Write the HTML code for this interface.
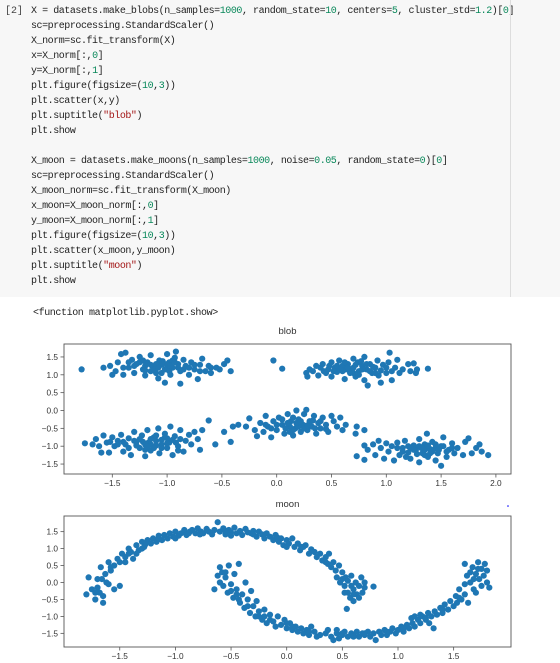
<!DOCTYPE html>
<html><head><meta charset="utf-8">
<style>
body{margin:0;width:560px;height:663px;background:#fff;overflow:hidden;position:relative;font-family:"Liberation Mono","Noto Sans CJK JP",monospace;}
#code{position:absolute;left:0;top:0;width:560px;height:297px;background:#f7f7f7;}
#vline{position:absolute;left:510px;top:0;width:1px;height:297px;background:#ddd;}
.ln{position:absolute;left:31px;font-size:10px;letter-spacing:-0.45px;color:#222;white-space:pre;line-height:12px;}
.n{color:#09885a}.s{color:#a31515}
#prompt{position:absolute;left:5px;top:6px;font-size:10px;color:#444;}
#out{position:absolute;left:33px;top:308px;font-size:10px;letter-spacing:-0.4px;color:#222;white-space:pre;}
svg{position:absolute;left:0;top:0;}
</style></head><body>
<div id="code">
<div id="prompt">[2]</div>
<div class="ln" style="top:6px">X = datasets.make_blobs(n_samples=<span class="n">1000</span>, random_state=<span class="n">10</span>, centers=<span class="n">5</span>, cluster_std=<span class="n">1.2</span>)[<span class="n">0</span>]</div>
<div class="ln" style="top:21px">sc=preprocessing.StandardScaler()</div>
<div class="ln" style="top:36px">X_norm=sc.fit_transform(X)</div>
<div class="ln" style="top:51px">x=X_norm[:,<span class="n">0</span>]</div>
<div class="ln" style="top:66px">y=X_norm[:,<span class="n">1</span>]</div>
<div class="ln" style="top:81px">plt.figure(figsize=(<span class="n">10</span>,<span class="n">3</span>))</div>
<div class="ln" style="top:96px">plt.scatter(x,y)</div>
<div class="ln" style="top:111px">plt.suptitle(<span class="s">"blob"</span>)</div>
<div class="ln" style="top:126px">plt.show</div>
<div class="ln" style="top:156px">X_moon = datasets.make_moons(n_samples=<span class="n">1000</span>, noise=<span class="n">0.05</span>, random_state=<span class="n">0</span>)[<span class="n">0</span>]</div>
<div class="ln" style="top:171px">sc=preprocessing.StandardScaler()</div>
<div class="ln" style="top:186px">X_moon_norm=sc.fit_transform(X_moon)</div>
<div class="ln" style="top:201px">x_moon=X_moon_norm[:,<span class="n">0</span>]</div>
<div class="ln" style="top:216px">y_moon=X_moon_norm[:,<span class="n">1</span>]</div>
<div class="ln" style="top:231px">plt.figure(figsize=(<span class="n">10</span>,<span class="n">3</span>))</div>
<div class="ln" style="top:246px">plt.scatter(x_moon,y_moon)</div>
<div class="ln" style="top:261px">plt.suptitle(<span class="s">"moon"</span>)</div>
<div class="ln" style="top:276px">plt.show</div>
</div>
<div id="vline"></div>
<div id="out">&lt;function matplotlib.pyplot.show&gt;</div>
<svg id="chart" width="560" height="663"></svg>
<script>
const blobXTicks=[-1.5,-1.0,-0.5,0.0,0.5,1.0,1.5,2.0];
const blobYTicks=[1.5,1.0,0.5,0.0,-0.5,-1.0,-1.5];
const moonXTicks=[-1.5,-1.0,-0.5,0.0,0.5,1.0,1.5];
const moonYTicks=[1.5,1.0,0.5,0.0,-0.5,-1.0,-1.5];
const blobPoints=[[-1.58,1.2],[-1.52,1.25],[-1.47,1.1],[-1.45,1.35],[-1.42,1.58],[-1.38,1.62],[-1.4,1.0],[-1.35,1.2],[-1.32,1.42],[-1.3,1.05],[-1.28,1.3],[-1.25,1.5],[-1.22,1.15],[-1.2,0.98],[-1.18,1.35],[-1.15,1.55],[-1.13,1.22],[-1.1,1.05],[-1.08,0.9],[-1.07,1.4],[-1.05,1.28],[-1.02,1.15],[-1.0,1.58],[-0.98,1.35],[-0.97,1.0],[-0.95,1.2],[-0.93,1.48],[-0.92,1.65],[-0.9,1.3],[-0.88,0.75],[-0.88,1.1],[-0.85,1.42],[-0.83,1.25],[-0.8,1.0],[-0.78,1.35],[-0.75,1.15],[-0.72,0.88],[-0.7,1.28],[-0.68,1.45],[-0.65,1.1],[-0.62,1.25],[-0.6,1.05],[-0.55,1.2],[-0.52,1.15],[-0.48,1.3],[-0.45,1.4],[-0.42,1.1],[-1.5,1.0],[-1.1,1.3],[-1.0,1.2],[-1.2,1.25],[-0.95,1.4],[-1.15,1.1],[-1.3,1.25],[-0.85,1.15],[-1.05,1.05],[-1.78,1.15],[-1.02,0.78],[-1.25,1.35],[-0.9,1.2],
[-1.12,1.15],[-1.08,1.2],[-1.0,1.3],[-0.97,1.25],[-0.93,1.35],[-1.04,1.38],[-1.15,1.28],[-1.2,1.12],[-0.8,1.2],[-0.75,1.28],[-1.35,1.35],[-1.4,1.2],[-0.7,1.1],[-0.98,1.1],[-1.22,1.4],[-0.6,1.2],
[0.27,1.05],[0.28,0.95],[0.3,1.15],[0.33,1.1],[0.36,1.25],[0.38,0.98],[0.4,1.2],[0.42,1.3],[0.45,1.05],[0.47,1.15],[0.5,1.35],[0.5,0.95],[0.53,1.2],[0.55,1.08],[0.57,1.4],[0.6,1.25],[0.62,0.88],[0.63,1.15],[0.65,1.3],[0.67,1.05],[0.7,1.45],[0.7,1.2],[0.72,0.95],[0.74,1.35],[0.75,1.1],[0.78,1.25],[0.8,0.85],[0.8,1.5],[0.82,1.15],[0.83,0.7],[0.85,1.3],[0.87,1.05],[0.9,1.2],[0.92,1.4],[0.93,0.98],[0.95,1.12],[0.97,1.28],[1.0,1.05],[1.02,1.35],[1.03,1.62],[1.05,0.85],[1.08,1.2],[1.1,1.42],[1.12,1.05],[1.15,1.15],[1.2,1.3],[1.22,1.1],[1.25,1.32],[1.27,1.05],[1.28,1.15],[1.38,1.17],[-0.03,1.4],[0.05,1.17],[0.6,1.1],[0.68,1.15],[0.88,1.22],[0.75,1.0],[0.55,1.25],[0.95,0.78],[0.43,1.1],
[0.65,1.2],[0.72,1.28],[0.78,1.15],[0.82,1.3],[0.62,1.35],[0.58,1.15],[0.85,1.1],[0.9,1.05],[0.7,1.05],[0.52,1.1],[1.0,1.2],[0.77,1.38],[0.48,1.25],[1.05,1.1],
[-1.75,-0.92],[-1.68,-0.95],[-1.65,-0.8],[-1.62,-1.0],[-1.6,-1.18],[-1.58,-0.7],[-1.55,-0.9],[-1.53,-1.18],[-1.5,-0.75],[-1.48,-1.0],[-1.45,-0.85],[-1.42,-0.68],[-1.4,-1.15],[-1.38,-0.95],[-1.35,-0.78],[-1.33,-1.25],[-1.3,-0.6],[-1.28,-0.88],[-1.25,-1.05],[-1.23,-0.7],[-1.2,-1.28],[-1.18,-0.55],[-1.17,-0.9],[-1.15,-1.12],[-1.12,-0.75],[-1.1,-0.98],[-1.08,-0.5],[-1.07,-1.2],[-1.05,-0.82],[-1.02,-0.65],[-1.0,-1.05],[-0.98,-0.9],[-0.97,-0.45],[-0.95,-1.25],[-0.93,-0.72],[-0.9,-1.0],[-0.88,-0.55],[-0.85,-1.15],[-0.83,-0.85],[-0.8,-0.68],[-0.78,-0.95],[-0.75,-0.6],[-0.72,-0.8],[-0.7,-1.1],[-0.68,-0.55],[-1.3,-0.85],[-1.2,-0.95],[-1.1,-0.85],[-1.0,-0.78],[-1.25,-0.8],[-1.15,-0.95],[-1.4,-0.88],[-1.05,-0.95],[-0.95,-0.82],[-1.35,-1.05],[-1.2,-1.1],
[-1.15,-0.8],[-1.1,-0.7],[-1.05,-1.05],[-1.0,-0.92],[-1.18,-1.0],[-1.22,-0.88],[-0.92,-0.9],[-1.28,-0.98],[-1.12,-1.05],[-1.02,-0.75],[-0.88,-0.8],[-1.45,-0.95],[-1.52,-0.88],[-0.9,-1.12],
[-0.62,-0.28],[-0.48,-0.6],[-0.42,-0.88],[-0.56,-0.95],[-0.4,-0.45],[-0.35,-0.4],[-0.28,-0.45],[-0.25,-0.22],[-0.2,-0.55],[-0.18,-0.72],[-0.15,-0.35],[-0.12,-0.6],[-0.1,-0.15],[-0.08,-0.45],[-0.05,-0.75],[-0.03,-0.3],[0.0,-0.55],[0.02,-0.2],[0.05,-0.4],[0.07,-0.65],[0.1,-0.1],[0.12,-0.45],[0.13,-0.3],[0.15,-0.7],[0.17,-0.5],[0.18,0.0],[0.2,-0.25],[0.22,-0.6],[0.24,-0.4],[0.25,-0.1],[0.27,0.02],[0.28,-0.55],[0.3,-0.3],[0.32,-0.45],[0.34,-0.15],[0.36,-0.65],[0.38,-0.35],[0.4,-0.5],[0.42,-0.2],[0.45,-0.4],[0.47,-0.6],[0.5,-0.15],[0.52,-0.3],[0.55,-0.45],[0.58,-0.2],[0.6,-0.55],[0.63,-0.4],[0.73,-0.45],[0.72,-0.65],[0.8,-0.55],[0.1,-0.35],[0.2,-0.45],[0.3,-0.4],[0.15,-0.55],[0.35,-0.5],[0.05,-0.25],[-0.05,-0.5],
[0.08,-0.5],[0.18,-0.35],[0.25,-0.5],[0.22,-0.3],[0.12,-0.6],[0.28,-0.42],[0.4,-0.3],[0.0,-0.4],[0.33,-0.28],[0.45,-0.52],[-0.1,-0.4],[0.15,-0.2],
[0.73,-1.28],[0.8,-1.38],[0.8,-0.98],[0.83,-1.1],[0.88,-0.95],[0.9,-1.25],[0.93,-0.85],[0.95,-1.05],[0.98,-1.35],[1.0,-0.92],[1.02,-1.15],[1.05,-1.0],[1.07,-1.4],[1.1,-0.9],[1.12,-1.25],[1.15,-1.05],[1.17,-0.85],[1.2,-1.18],[1.22,-1.35],[1.25,-0.98],[1.27,-1.1],[1.3,-1.45],[1.3,-0.8],[1.33,-1.2],[1.35,-0.95],[1.37,-0.65],[1.38,-1.3],[1.4,-1.08],[1.42,-0.88],[1.45,-1.4],[1.47,-1.2],[1.5,-1.55],[1.5,-1.0],[1.52,-0.75],[1.55,-1.3],[1.57,-1.1],[1.6,-0.92],[1.62,-1.2],[1.65,-1.05],[1.7,-1.25],[1.72,-0.88],[1.75,-0.78],[1.78,-1.2],[1.82,-1.05],[1.85,-0.95],[1.87,-1.15],[1.93,-1.25],[1.25,-1.1],[1.35,-1.1],[1.45,-1.05],[1.15,-1.15],[1.4,-1.2],[1.3,-1.0],[1.55,-1.15],[1.2,-1.0],
[1.32,-1.05],[1.38,-0.98],[1.42,-1.15],[1.48,-1.1],[1.28,-1.22],[1.22,-1.05],[1.52,-1.0],[1.35,-1.25],[1.1,-1.05],[1.6,-1.05],[1.45,-0.95],[1.18,-1.3]];
const moonPoints=[[-1.8,-0.35],[-1.78,0.15],[-1.75,-0.2],[-1.72,-0.5],[-1.7,0.1],[-1.68,-0.3],[-1.67,0.45],[-1.65,-0.6],[-1.63,0.25],[-1.6,0.6],[-1.6,-0.05],[-1.58,0.35],[-1.55,0.5],[-1.55,-0.2],[-1.52,0.7],[-1.5,0.6],[-1.48,0.85],[-1.45,0.75],[-1.42,1.0],[-1.4,0.9],[-1.38,0.7],[-1.35,1.1],[-1.33,0.95],[-1.3,1.2],[-1.28,1.05],[-1.25,1.25],[-1.22,1.15],[-1.2,1.3],[-1.17,1.2],[-1.15,1.38],[-1.12,1.25],[-1.1,1.4],[-1.07,1.3],[-1.05,1.45],[-1.02,1.35],[-1.0,1.5],[-0.97,1.38],[-0.95,1.45],[-0.92,1.55],[-0.9,1.4],[-0.87,1.5],[-0.85,1.55],[-0.82,1.45],[-0.8,1.6],[-0.77,1.5],[-0.75,1.45],[-0.72,1.58],[-0.7,1.5],[-0.67,1.42],[-0.65,1.55],[-0.62,1.78],[-0.6,1.5],[-0.57,1.6],[-0.55,1.42],[-0.52,1.55],[-0.5,1.48],[-0.47,1.62],[-0.45,1.45],[-0.42,1.52],[-0.4,1.4],[-0.37,1.58],[-0.35,1.48],[-0.32,1.45],[-0.3,1.52],[-0.27,1.35],[-0.25,1.5],[-0.22,1.42],[-0.2,1.3],[-0.18,1.45],[-0.15,1.35],[-0.12,1.25],[-0.1,1.4],[-0.07,1.2],[-0.05,1.3],[-0.03,1.1],[0.0,1.25],[0.02,1.15],[0.05,1.3],[0.07,1.05],[0.1,1.15],[0.12,0.95],[0.15,1.05],[0.17,1.1],[0.2,0.85],[0.22,0.98],[0.25,0.9],[0.27,0.75],[0.3,0.85],[0.32,0.65],[0.35,0.75],[0.37,0.55],[0.38,0.85],[0.4,0.45],[0.42,0.6],[0.44,0.35],[0.45,0.15],[0.47,0.5],[0.48,0.0],[0.5,0.3],[0.52,-0.1],[0.53,0.15],[0.55,-0.3],[0.55,0.05],[0.57,-0.45],[0.58,0.2],[0.6,-0.2],[0.6,-0.55],[0.62,0.0],[0.63,-0.35],[0.65,-0.1],[0.67,0.15],[0.68,-0.3],[0.7,0.0],[0.7,-0.15],[0.54,-0.78],[0.78,-0.12],[-1.65,-0.4],[-1.7,-0.15],[-1.5,-0.1],[-1.62,0.0],[-1.35,0.85],[-1.45,0.6],[-1.0,1.3],[-0.5,1.38],[0.0,1.05],[-1.3,1.0],
[-1.72,-0.3],[-1.66,0.1],[-1.58,0.45],[-1.42,0.85],[-1.27,1.12],[-1.15,1.3],[-0.88,1.45],[-0.78,1.42],[-0.55,1.52],[-0.3,1.42],[-0.08,1.32],[0.13,1.05],[0.35,0.6],[0.5,0.1],[0.6,-0.35],[0.65,-0.45],[0.58,-0.1],[0.52,-0.3],
[-0.65,-0.2],[-0.62,0.2],[-0.6,0.45],[-0.6,0.0],[-0.58,0.3],[-0.57,-0.1],[-0.55,0.15],[-0.53,-0.3],[-0.52,0.5],[-0.5,-0.05],[-0.48,-0.45],[-0.47,0.25],[-0.45,-0.2],[-0.43,0.55],[-0.42,-0.6],[-0.4,-0.35],[-0.38,-0.75],[-0.37,0.0],[-0.35,-0.5],[-0.33,-0.9],[-0.32,-0.25],[-0.3,-0.7],[-0.28,-1.0],[-0.27,-0.55],[-0.25,-0.85],[-0.22,-1.1],[-0.2,-0.8],[-0.18,-1.2],[-0.15,-0.95],[-0.12,-1.15],[-0.1,-1.3],[-0.08,-1.0],[-0.05,-1.25],[-0.02,-1.1],[0.0,-1.35],[0.03,-1.2],[0.05,-1.4],[0.08,-1.3],[0.1,-1.45],[0.13,-1.35],[0.15,-1.5],[0.18,-1.4],[0.2,-1.55],[0.22,-1.3],[0.25,-1.45],[0.27,-1.6],[0.35,-1.5],[0.37,-1.4],[0.4,-1.6],[0.42,-1.7],[0.45,-1.5],[0.47,-1.65],[0.5,-1.55],[0.52,-1.45],[0.55,-1.6],[0.58,-1.5],[0.6,-1.55],[0.63,-1.45],[0.65,-1.6],[0.68,-1.5],[0.7,-1.55],[0.73,-1.45],[0.75,-1.6],[0.78,-1.5],[0.8,-1.7],[0.83,-1.45],[0.85,-1.55],[0.88,-1.4],[0.9,-1.55],[0.93,-1.45],[0.95,-1.35],[0.98,-1.5],[1.0,-1.4],[1.03,-1.3],[1.05,-1.45],[1.08,-1.25],[1.1,-1.35],[1.12,-1.05],[1.13,-1.2],[1.15,-1.3],[1.18,-1.1],[1.2,-1.2],[1.22,-1.0],[1.25,-1.1],[1.27,-0.9],[1.28,-1.2],[1.3,-1.0],[1.32,-1.35],[1.33,-0.85],[1.35,-0.95],[1.38,-0.75],[1.4,-0.9],[1.42,-0.65],[1.45,-0.8],[1.47,-0.55],[1.5,-0.7],[1.52,-0.4],[1.53,-0.6],[1.55,-0.2],[1.57,-0.5],[1.6,-0.05],[1.6,-0.35],[1.62,0.2],[1.63,-0.6],[1.65,0.0],[1.67,0.45],[1.68,-0.2],[1.7,0.25],[1.72,0.6],[1.73,0.1],[1.75,0.4],[1.75,-0.1],[1.77,0.2],[1.78,0.55],[1.8,0.0],[1.8,0.35],[1.82,-0.15],[1.6,0.55],[1.65,0.3],[1.7,-0.3],[0.3,-1.55],[0.45,-1.4],[1.15,-1.0],[-0.45,-0.35],[-0.2,-1.0],[0.0,-1.2],[1.2,-0.95],
[-0.55,0.3],[-0.5,-0.25],[-0.43,-0.5],[-0.35,-0.7],[-0.25,-1.0],[-0.15,-1.1],[0.05,-1.3],[0.2,-1.45],[0.5,-1.5],[0.7,-1.5],[0.9,-1.45],[1.05,-1.35],[1.25,-1.05],[1.4,-0.8],[1.55,-0.45],[1.68,0.1],[1.72,0.4],[0.6,-1.6]];

const NS='http://www.w3.org/2000/svg';
const svg=document.getElementById('chart');
function mk(tag,attrs,parent){const e=document.createElementNS(NS,tag);for(const k in attrs)e.setAttribute(k,attrs[k]);(parent||svg).appendChild(e);return e;}
function fmt(v){return (v<0?'\u2212':'')+Math.abs(v).toFixed(1);}
function drawChart(name,title,titleY,box,x0px,xUnit,y0px,yUnit,xt,yt,pts){
  const g=mk('g',{});
  
  
  const sx=v=>x0px+v*xUnit, sy=v=>y0px-v*yUnit;
  const t=mk('text',{x:(box.l+box.r)/2,y:titleY,'text-anchor':'middle','font-family':'Liberation Sans, sans-serif','font-size':'9.5','fill':'#333'},g);
  t.textContent=title;
  
  
  const pg=mk('g',{fill:'#1f77b4'},g);
  
  
  pts.forEach(p=>{const c=mk('circle',{cx:sx(p[0]).toFixed(1),cy:sy(p[1]).toFixed(1),r:3.1},pg);
    
    });
  const rect=mk('rect',{x:box.l,y:box.t,width:box.r-box.l,height:box.b-box.t,fill:'none',stroke:'#555','stroke-width':0.9},g);
  
  
  xt.forEach(v=>{const x=sx(v);mk('line',{x1:x,x2:x,y1:box.b,y2:box.b+3.5,stroke:'#555','stroke-width':0.8},g);
    const l=mk('text',{x:x,y:box.b+12,'text-anchor':'middle','font-family':'Liberation Sans, sans-serif','font-size':'8.3',fill:'#333'},g);
    l.textContent=fmt(v);
    
    });
  yt.forEach(v=>{const y=sy(v);mk('line',{x1:box.l-3.5,x2:box.l,y1:y,y2:y,stroke:'#555','stroke-width':0.8},g);
    const l=mk('text',{x:box.l-6,y:y+3,'text-anchor':'end','font-family':'Liberation Sans, sans-serif','font-size':'8.3',fill:'#333'},g);
    l.textContent=fmt(v);
    
    });
}
drawChart('blob','blob',334,{l:64,r:511,t:344,b:474},276.7,109.6,410.5,35.7,blobXTicks,blobYTicks,blobPoints);
drawChart('moon','moon',507,{l:64,r:511,t:516,b:647},286.7,111.3,582.5,33.9,moonXTicks,moonYTicks,moonPoints);
const dot=mk('circle',{cx:508,cy:506,r:0.8,fill:'#00f'});


</script>
</body></html>
